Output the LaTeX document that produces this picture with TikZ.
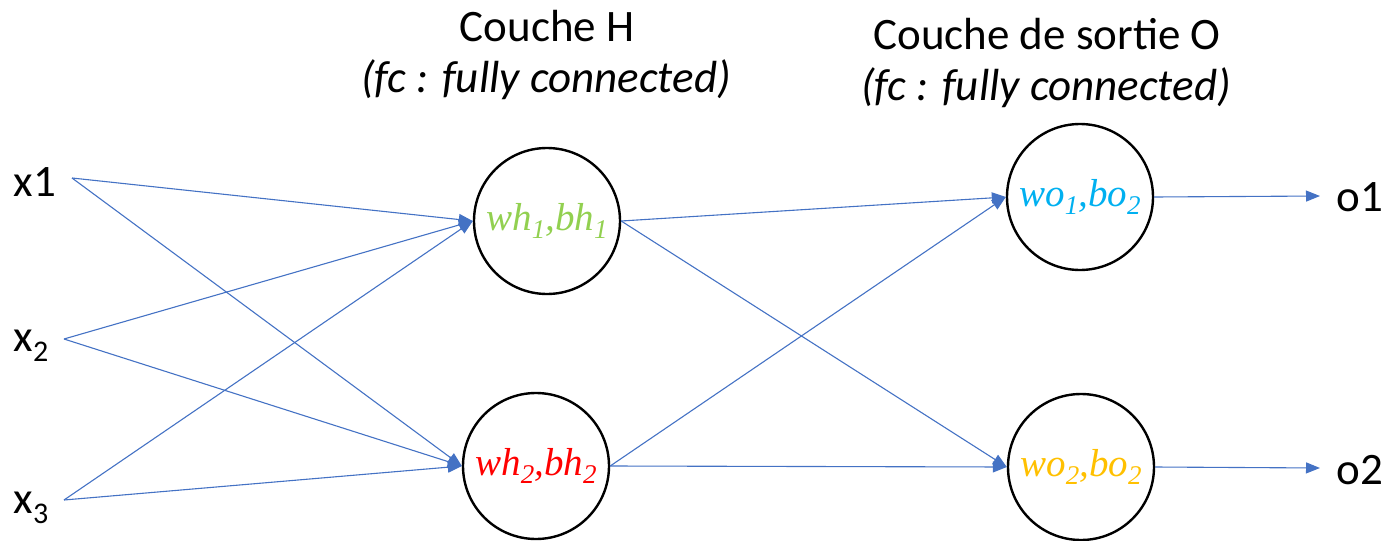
\documentclass[tikz,border=0pt]{standalone}
\usepackage{fontspec}
\setmainfont{Carlito}
\newfontfamily\tnr{Liberation Serif}
\usetikzlibrary{arrows.meta}
\definecolor{linkblue}{HTML}{4472C4}
\definecolor{cgreen}{HTML}{92D050}
\definecolor{cred}{HTML}{FF0000}
\definecolor{ccyan}{HTML}{00B0F0}
\definecolor{corange}{HTML}{FFC000}
\newcommand\mysub[1]{\raisebox{-0.22em}{\fontsize{27}{27}\selectfont #1}}
\newcommand\lblsub[1]{\raisebox{-0.22em}{\fontsize{30}{30}\selectfont #1}}
\begin{document}
\begin{tikzpicture}[x=1pt,y=-1pt,
  neuron/.style={circle,draw=black,line width=2.4pt,minimum size=146pt,inner sep=0pt,
    font=\tnr\itshape\fontsize{39}{44}\selectfont},
  lbl/.style={inner sep=0pt,font=\fontsize{45}{54}\selectfont},
  hdr/.style={inner sep=0pt,anchor=base,font=\fontsize{45}{54}\selectfont},
  link/.style={draw=linkblue,line width=1.1pt,-{Triangle[length=14pt,width=11pt]}}]
\useasboundingbox (0,0) rectangle (1382,541);
% headers
\node[hdr] (hh1) at (547,41) {Couche H};
\node[hdr] (hh2) at (546,92) {\itshape (fc : fully connected)};
\node[hdr] (oh1) at (1047,49) {Couche de sortie O};
\node[hdr] (oh2) at (1046,100) {\itshape (fc : fully connected)};
% inputs
\node[lbl] (x1) at (35,182) {x1};
\node[lbl] (x2) at (31,346) {x\lblsub{2}};
\node[lbl] (x3) at (31,508) {x\lblsub{3}};
\coordinate (a1) at (72,178);
\coordinate (a2) at (64,339);
\coordinate (a3) at (64,500);
% neurons
\node[neuron,text=cgreen] (h1) at (547,221) {wh\mysub{1},bh\mysub{1}};
\node[neuron,text=cred] (h2) at (536,466) {wh\mysub{2},bh\mysub{2}};
\node[neuron,text=ccyan] (o1) at (1080,197) {wo\mysub{1},bo\mysub{2}};
\node[neuron,text=corange] (o2) at (1081,467) {wo\mysub{2},bo\mysub{2}};
% outputs
\node[lbl] (y1) at (1360,197) {o1};
\node[lbl] (y2) at (1360,470) {o2};
\coordinate (e1) at (1320,196);
\coordinate (e2) at (1320,468);
% links
\draw[link] (a1) -- (h1.west);
\draw[link] (a1) -- (h2.west);
\draw[link] (a2) -- (h1.west);
\draw[link] (a2) -- (h2.west);
\draw[link] (a3) -- (h1.west);
\draw[link] (a3) -- (h2.west);
\draw[link] (h1.east) -- (o1.west);
\draw[link] (h1.east) -- (o2.west);
\draw[link] (h2.east) -- (o1.west);
\draw[link] (h2.east) -- (o2.west);
\draw[link] (o1.east) -- (e1);
\draw[link] (o2.east) -- (e2);
\end{tikzpicture}
\end{document}
